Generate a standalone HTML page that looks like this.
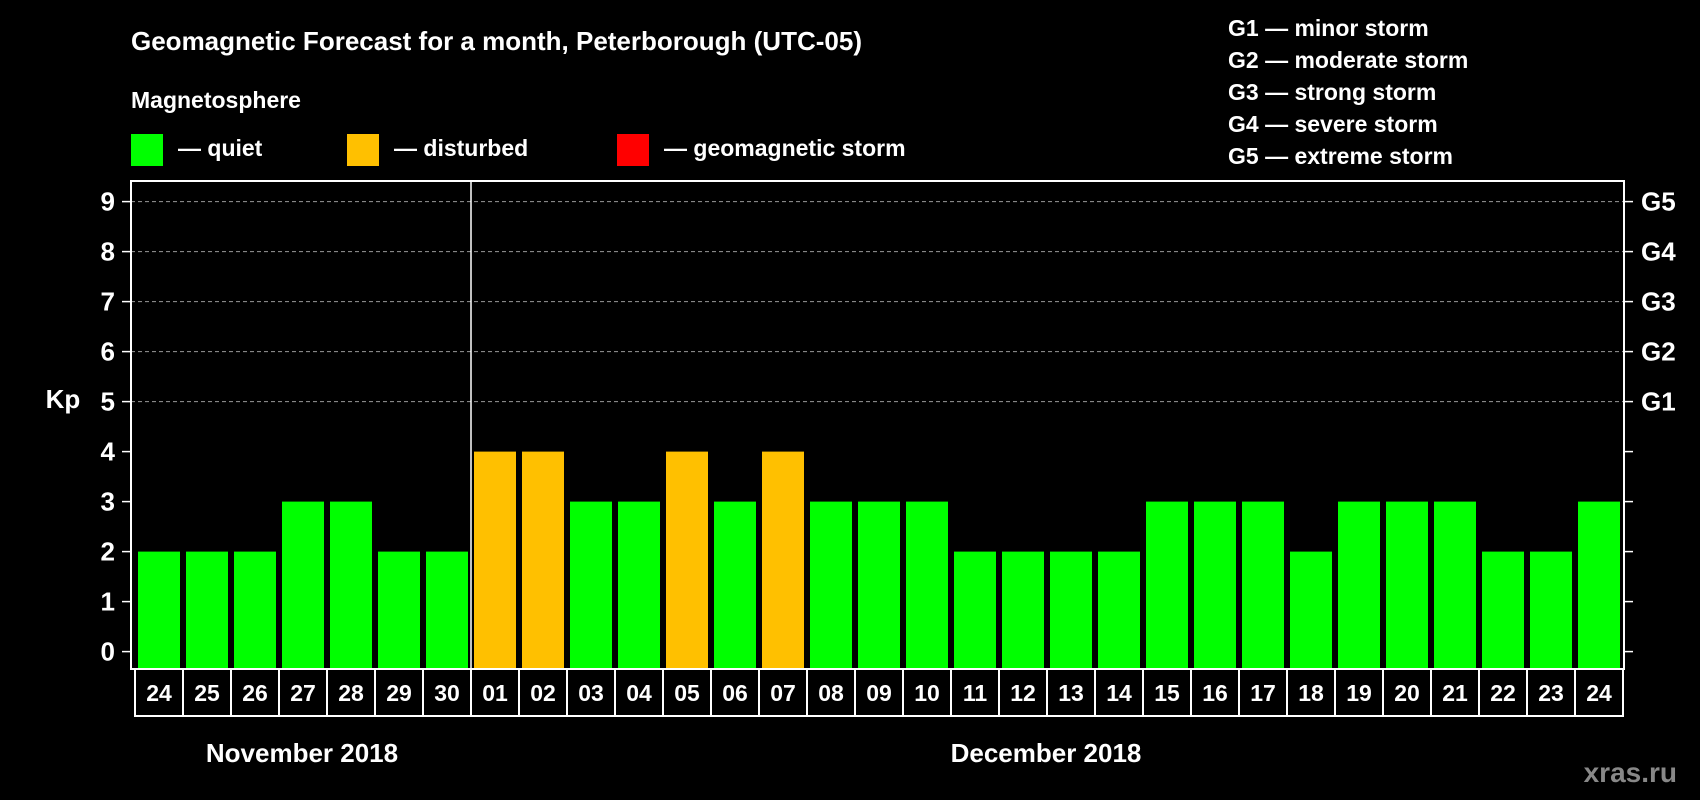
<!DOCTYPE html>
<html><head><meta charset="utf-8"><style>
html,body{margin:0;padding:0;background:#000;}
svg{display:block;font-family:"Liberation Sans",Arial,sans-serif;font-weight:bold;}
</style></head><body>
<svg id="chart" width="1700" height="800" viewBox="0 0 1700 800">
<text x="131" y="50" fill="#fff" font-size="26">Geomagnetic Forecast for a month, Peterborough (UTC-05)</text>
<text x="131" y="108" fill="#fff" font-size="23">Magnetosphere</text>
<g><rect x="131" y="134" width="32" height="32" fill="#00ff00"/><text x="178" y="156" fill="#fff" font-size="23">— quiet</text></g>
<g><rect x="347" y="134" width="32" height="32" fill="#ffc000"/><text x="394" y="156" fill="#fff" font-size="23">— disturbed</text></g>
<g><rect x="617" y="134" width="32" height="32" fill="#ff0000"/><text x="664" y="156" fill="#fff" font-size="23">— geomagnetic storm</text></g>
<g fill="#fff" font-size="23">
<text x="1228" y="36">G1 — minor storm</text>
<text x="1228" y="68">G2 — moderate storm</text>
<text x="1228" y="100">G3 — strong storm</text>
<text x="1228" y="132">G4 — severe storm</text>
<text x="1228" y="164">G5 — extreme storm</text>
</g>
<text x="63" y="408" fill="#fff" font-size="26" text-anchor="middle">Kp</text>
<g id="grid"></g><g id="bars"></g><g id="axes"></g><g id="xlabels"></g>
<text x="302" y="762" fill="#fff" font-size="26" text-anchor="middle">November 2018</text>
<text x="1046" y="762" fill="#fff" font-size="26" text-anchor="middle">December 2018</text>
<text x="1677" y="782" fill="#888" font-size="28" text-anchor="end">xras.ru</text>
</svg>
<script>
const days = ["24","25","26","27","28","29","30","01","02","03","04","05","06","07","08","09","10","11","12","13","14","15","16","17","18","19","20","21","22","23","24"];
const kp = [2,2,2,3,3,2,2,4,4,3,3,4,3,4,3,3,3,2,2,2,2,3,3,3,2,3,3,3,2,2,3];
const yTicks = [0,1,2,3,4,5,6,7,8,9];
const gLabels = ["G1","G2","G3","G4","G5"];
const NS="http://www.w3.org/2000/svg";
const L=131,R=1624,T=181,B=669;
function y(v){return 651.6 - v*50.0;}
function x(i){return 138 + i*48;}
function mk(tag,attrs,parent){const e=document.createElementNS(NS,tag);for(const k in attrs)e.setAttribute(k,attrs[k]);parent.appendChild(e);return e;}
function color(v){return v>=5?"#ff0000":(v>=4?"#ffc000":"#00ff00");}
const grid=document.getElementById('grid'),bars=document.getElementById('bars'),axes=document.getElementById('axes'),xl=document.getElementById('xlabels');
yTicks.forEach(v=>{
  if(v>=5){const g=mk('line',{x1:L,x2:R,y1:y(v),y2:y(v),stroke:"#999","stroke-width":1,"stroke-dasharray":"4,3"},grid);
  
  }
  const t=mk('line',{x1:L-9,x2:L,y1:y(v),y2:y(v),stroke:"#fff","stroke-width":1.5},axes);
  
  
  const t2=mk('line',{x1:R,x2:R+9,y1:y(v),y2:y(v),stroke:"#fff","stroke-width":1.5},axes);
  
  
  const lb=mk('text',{x:115,y:y(v)+9,fill:"#fff","font-size":26,"text-anchor":"end"},axes);lb.textContent=v;
  
  
});
gLabels.forEach((g,i)=>{
  const lb=mk('text',{x:1641,y:y(5+i)+9,fill:"#fff","font-size":26},axes);lb.textContent=g;
  
  
});
kp.forEach((v,i)=>{
  const r=mk('rect',{x:x(i),y:y(v),width:42,height:B-y(v),fill:color(v)},bars);
  
  
});
const fr=mk('rect',{x:L,y:T,width:R-L,height:B-T,fill:"none",stroke:"#fff","stroke-width":2},axes);


const dv=mk('line',{x1:x(7)-3,x2:x(7)-3,y1:T,y2:B,stroke:"#fff","stroke-width":1.5},axes);


days.forEach((d,i)=>{
  const bx=mk('rect',{x:x(i)-3,y:B,width:48,height:47,fill:"none",stroke:"#fff","stroke-width":2},xl);
  
  
  const t=mk('text',{x:x(i)+21,y:B+32,fill:"#fff","font-size":23,"text-anchor":"middle"},xl);t.textContent=d;
  
  
});
</script>
</body></html>
